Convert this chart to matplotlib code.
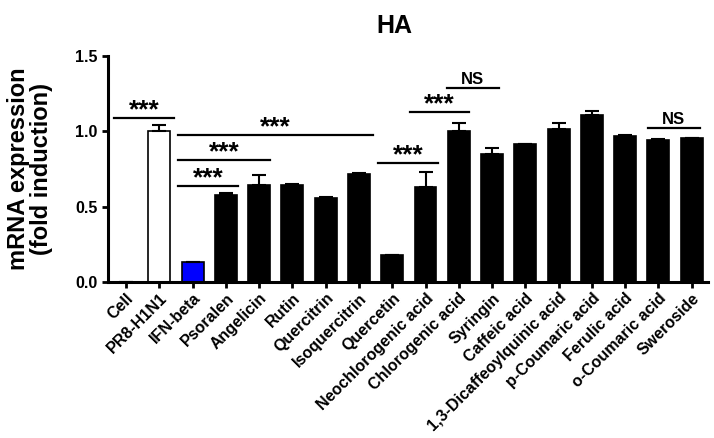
import matplotlib.pyplot as plt
import numpy as np

plt.rcParams['font.family'] = ['Liberation Sans', 'DejaVu Sans']
plt.rcParams['font.weight'] = 'bold'

labels = ['Cell', 'PR8-H1N1', 'IFN-beta', 'Psoralen', 'Angelicin', 'Rutin',
          'Quercitrin', 'Isoquercitrin', 'Quercetin', 'Neochlorogenic acid',
          'Chlorogenic acid', 'Syringin', 'Caffeic acid',
          '1,3-Dicaffeoylquinic acid', 'p-Coumaric acid', 'Ferulic acid',
          'o-Coumaric acid', 'Sweroside']
values = [0.0, 1.0, 0.13, 0.575, 0.645, 0.645, 0.56, 0.72, 0.18, 0.63,
          1.005, 0.847, 0.918, 1.013, 1.108, 0.968, 0.943, 0.953]
errors = [0.0, 0.04, 0.0, 0.015, 0.065, 0.005, 0.005, 0.003, 0.0, 0.1,
          0.05, 0.045, 0.0, 0.045, 0.025, 0.01, 0.004, 0.003]
colors = ['white', 'white', '#0000ff'] + ['black'] * 15

# significance brackets: (x start, x end, y, label)
brackets = [
    (-0.36, 1.44, 1.087, '***'),
    (1.56, 7.42, 0.975, '***'),
    (1.56, 4.32, 0.813, '***'),
    (1.56, 3.36, 0.638, '***'),
    (7.57, 9.37, 0.791, '***'),
    (8.53, 10.3, 1.129, '***'),
    (9.64, 11.2, 1.287, 'NS'),
    (15.68, 17.24, 1.024, 'NS'),
]

fig = plt.figure(figsize=(7.14, 4.38), dpi=100)
ax = fig.add_axes([0.151, 0.356, 0.841, 0.516])

x = np.arange(len(labels))
ax.bar(x, values, width=0.66, color=colors, edgecolor='black', linewidth=1.2)
ax.errorbar(x, values, yerr=[np.zeros(len(errors)), errors], fmt='none',
            ecolor='black', elinewidth=1.5, capsize=5, capthick=1.5)

for x0, x1, y, lab in brackets:
    ax.plot([x0, x1], [y, y], color='black', lw=1.6, clip_on=False)
    if lab == 'NS':
        ax.annotate(lab, ((x0 + x1) / 2, y), xytext=(0, 3),
                    textcoords='offset points', ha='center', va='baseline',
                    fontsize=12, fontweight='bold', annotation_clip=False)
    else:
        ax.annotate(lab, ((x0 + x1) / 2, y), xytext=(0, 0.5),
                    textcoords='offset points', ha='center', va='baseline',
                    fontsize=19, fontweight='bold', annotation_clip=False)

ax.set_xlim(-0.55, 17.5)
ax.set_ylim(0, 1.5)
ax.set_yticks([0.0, 0.5, 1.0, 1.5])
ax.set_yticklabels(['0.0', '0.5', '1.0', '1.5'], fontsize=11.5, fontweight='bold')
ax.set_xticks(x)
ax.set_xticklabels(labels, rotation=45, ha='right', rotation_mode='anchor',
                   fontsize=11.5, fontweight='bold')

for s in ['top', 'right']:
    ax.spines[s].set_visible(False)
for s in ['left', 'bottom']:
    ax.spines[s].set_linewidth(2.2)
ax.tick_params(width=2, length=4)
ax.tick_params(axis='x', pad=2)

ax.set_ylabel('mRNA expression\n(fold induction)', fontsize=17,
              fontweight='bold', labelpad=16, linespacing=1.0)
fig.text(0.552, 0.94, 'HA', ha='center', va='center', fontsize=18,
         fontweight='bold')

fig.savefig('out.png', dpi=100)
